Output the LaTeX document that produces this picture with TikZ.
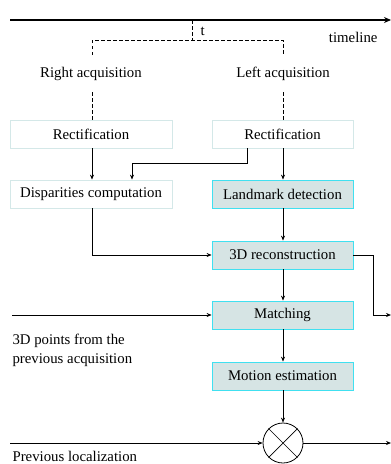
\documentclass[tikz,border=0pt]{standalone}
\usepackage{fontspec}
\setmainfont{Liberation Serif}
\usetikzlibrary{arrows.meta}
\definecolor{boxfill}{HTML}{D6E4E4}
\definecolor{boxcyan}{HTML}{40E0F0}
\definecolor{lightline}{HTML}{D4E8E8}
\begin{document}
\begin{tikzpicture}[x=1pt,y=-1pt,
  font=\fontsize{14.8}{17}\selectfont,
  plainbox/.style={draw=lightline,line width=0.8pt,minimum height=28pt,inner sep=0pt},
  hlbox/.style={draw=boxcyan,fill=boxfill,line width=0.8pt,minimum width=141pt,minimum height=28pt,inner sep=0pt},
  conn/.style={line width=0.7pt,-{Stealth[length=5pt,width=4pt]}},
  dashline/.style={dashed,dash pattern=on 3.5pt off 2.5pt,line width=0.7pt}]
\useasboundingbox (0,0) rectangle (391,464);
% timeline
\coordinate (tl0) at (10,20);
\coordinate (tl1) at (391,20);
\draw[line width=1.6pt,-{Stealth[length=7pt,width=6pt]}] (tl0) -- (tl1);
\node[anchor=base east] (tltext) at (381,42) {timeline};
\coordinate (tt) at (192,20);
\coordinate (tb) at (192,40);
\node[anchor=base west] (tlab) at (197,35) {t};
\coordinate (dl) at (92,40);
\coordinate (dr) at (283,40);
\coordinate (dl2) at (92,55);
\coordinate (dr2) at (283,55);
\draw[dashline] (tt) -- (tb);
\draw[dashline] (dl2) -- (dl) -- (dr) -- (dr2);
\node (racq) at (91,74) {Right acquisition};
\node (lacq) at (283,74) {Left acquisition};
% rectification
\node[plainbox,minimum width=162pt] (rrect) at (91,134) {Rectification};
\node[plainbox,minimum width=141pt] (lrect) at (282.5,134) {Rectification};
\coordinate (dl3) at (92,92);
\coordinate (dr3) at (283,92);
\draw[dashline] (dl3) -- (rrect.north -| dl3);
\draw[dashline] (dr3) -- (lrect.north -| dr3);
% disparities and landmark
\node[plainbox,minimum width=162pt] (disp) at (91,194) {Disparities computation};
\node[hlbox] (land) at (282.5,194) {Landmark detection};
\draw[conn] (rrect.south -| dl3) -- (disp.north -| dl3);
\coordinate (bend1) at (247,163);
\coordinate (bend2) at (132,163);
\draw[conn] (lrect.south -| bend1) -- (bend1) -- (bend2) -- (disp.north -| bend2);
\draw[conn] (lrect.south -| dr3) -- (land.north -| dr3);
% 3D reconstruction
\node[hlbox] (recon) at (282.5,255) {3D reconstruction};
\draw[conn] (land.south -| dr3) -- (recon.north -| dr3);
\draw[conn] (disp.south -| dl3) |- (recon.west);
% matching
\node[hlbox] (match) at (282.5,315) {Matching};
\draw[conn] (recon.south -| dr3) -- (match.north -| dr3);
\coordinate (rb1) at (373,255);
\coordinate (rout) at (391,315);
\draw[conn] (recon.east) -- (rb1) |- (rout);
\coordinate (min) at (12,315);
\draw[conn] (min) -- (match.west);
\node[anchor=base west] (ptxt) at (9,344) {3D points from the};
\node[anchor=base west] (ptxt2) at (9,363) {previous acquisition};
% motion estimation
\node[hlbox] (motion) at (282.5,376) {Motion estimation};
\draw[conn] (match.south -| dr3) -- (motion.north -| dr3);
% circle
\node[draw,circle,line width=0.8pt,minimum size=40pt,inner sep=0pt] (mul) at (283,443) {};
\draw[line width=0.7pt] (mul.north west) -- (mul.south east) (mul.north east) -- (mul.south west);
\draw[conn] (motion.south -| dr3) -- (mul.north);
\coordinate (lin) at (10,443);
\coordinate (lout) at (391,443);
\draw[conn] (lin) -- (mul.west);
\draw[conn] (mul.east) -- (lout);
\node[anchor=base west] (prevloc) at (9,461) {Previous localization};
\end{tikzpicture}
\end{document}
